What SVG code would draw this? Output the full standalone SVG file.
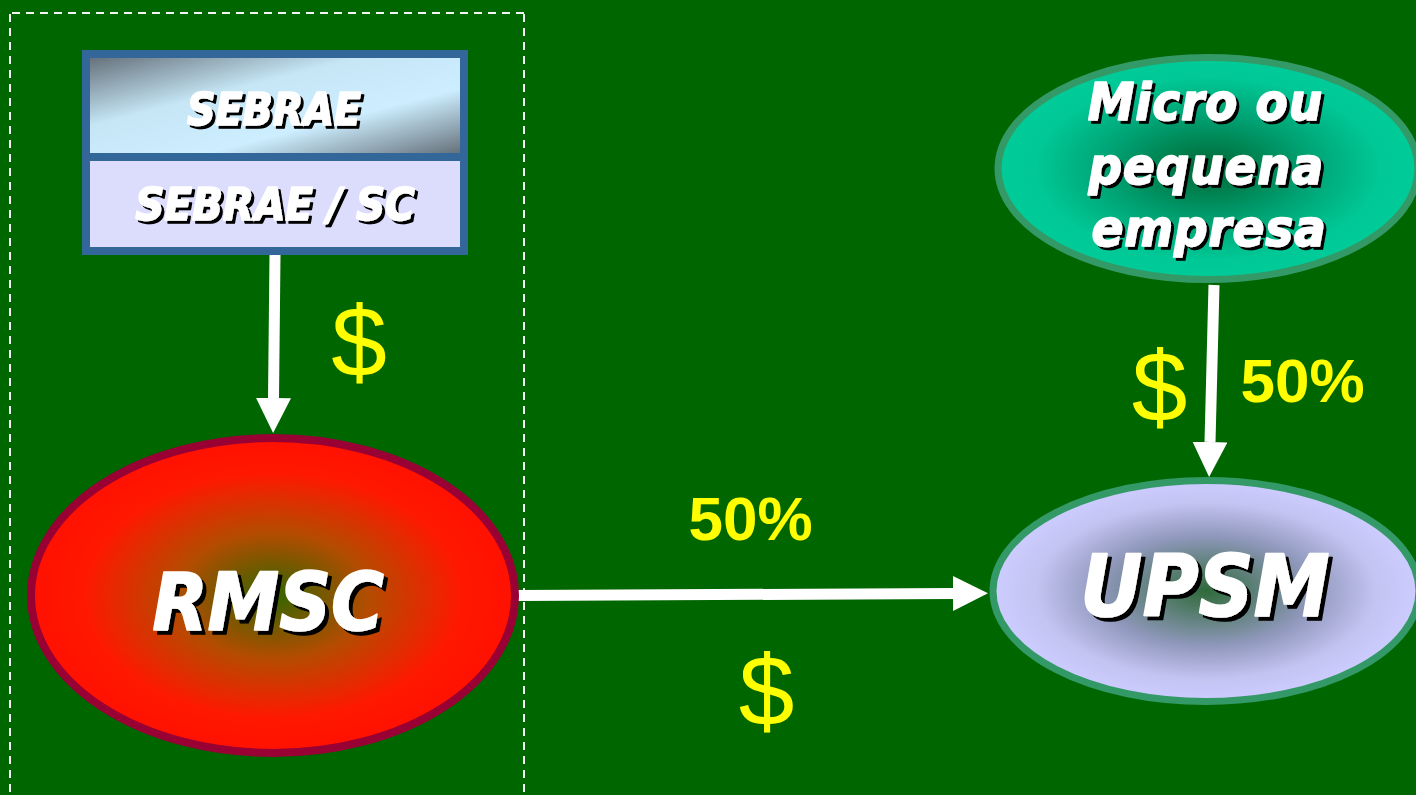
<svg xmlns="http://www.w3.org/2000/svg" width="1416" height="795" viewBox="0 0 1416 795">
  <style>
    .node-label { font-family: "DejaVu Sans Condensed", "DejaVu Sans", "Liberation Sans", sans-serif; font-weight: bold; font-style: italic; fill: #ffffff; stroke: #ffffff; stroke-width: 1.6; stroke-linejoin: round; text-anchor: middle; }
    .money { font-family: "Liberation Sans", Arial, sans-serif; fill: #ffff00; text-anchor: middle; }
    .pct { font-family: "Liberation Sans", Arial, sans-serif; font-weight: bold; fill: #ffff00; text-anchor: middle; font-size: 62px; }
    .dollar { font-size: 100px; }
    .conn { stroke: #ffffff; stroke-width: 11; fill: none; marker-end: url(#head); }
    .dash { stroke: #f4f4f4; stroke-width: 2; stroke-dasharray: 8,6; fill: none; }
  </style>
  <defs>
    <filter id="shadow" x="-10%" y="-20%" width="130%" height="150%">
      <feOffset in="SourceAlpha" dx="3" dy="3" result="off"/>
      <feFlood flood-color="#000000"/>
      <feComposite in2="off" operator="in" result="sh"/>
      <feMerge><feMergeNode in="sh"/><feMergeNode in="SourceGraphic"/></feMerge>
    </filter>
    <filter id="shadowBig" x="-10%" y="-20%" width="130%" height="150%">
      <feOffset in="SourceAlpha" dx="4" dy="4" result="off"/>
      <feFlood flood-color="#000000"/>
      <feComposite in2="off" operator="in" result="sh"/>
      <feMerge><feMergeNode in="sh"/><feMergeNode in="SourceGraphic"/></feMerge>
    </filter>
    <linearGradient id="sebraeGrad" x1="0" y1="0" x2="1" y2="1">
      <stop offset="0" stop-color="#66727c"/>
      <stop offset="0.36" stop-color="#c6e6f6"/>
      <stop offset="0.66" stop-color="#cdeeff"/>
      <stop offset="1" stop-color="#66727c"/>
    </linearGradient>
    <radialGradient id="rmscGrad" cx="0.5" cy="0.5" r="0.5">
      <stop offset="0" stop-color="#336600"/>
      <stop offset="0.4" stop-color="#b44c00"/>
      <stop offset="0.78" stop-color="#ff1800"/>
      <stop offset="1" stop-color="#ff1100"/>
    </radialGradient>
    <radialGradient id="microGrad" cx="0.5" cy="0.5" r="0.5">
      <stop offset="0" stop-color="#006633"/>
      <stop offset="0.5" stop-color="#00a475"/>
      <stop offset="0.82" stop-color="#00c896"/>
      <stop offset="1" stop-color="#00cc99"/>
    </radialGradient>
    <radialGradient id="upsmGrad" cx="0.5" cy="0.5" r="0.5">
      <stop offset="0" stop-color="#2f6a3a"/>
      <stop offset="0.5" stop-color="#9098bc"/>
      <stop offset="0.8" stop-color="#c4c4f2"/>
      <stop offset="1" stop-color="#ccccff"/>
    </radialGradient>
    <marker id="head" markerUnits="userSpaceOnUse" markerWidth="36" markerHeight="36" refX="0" refY="17.5" orient="auto">
      <path d="M0,0 L35,17.5 L0,35 Z" fill="#ffffff"/>
    </marker>
  </defs>

  <rect x="0" y="0" width="1416" height="795" fill="#006600"/>

  <g id="boundary">
    <line class="dash" x1="12" y1="13" x2="524" y2="13"/>
    <line class="dash" x1="10" y1="14" x2="10" y2="800"/>
    <line class="dash" x1="524" y1="14" x2="524" y2="800"/>
  </g>

  <g id="connectors">
    <path class="conn" d="M275,255 L273.5,398"/>
    <path class="conn" d="M518,595.5 L953,593.5"/>
    <path class="conn" d="M1214,285 L1210,442"/>
  </g>

  <g id="sebrae">
    <rect x="86" y="54" width="378" height="197" fill="#dcdcfc" stroke="#336699" stroke-width="8"/>
    <rect x="90" y="58" width="370" height="95" fill="url(#sebraeGrad)"/>
    <line x1="86" y1="157" x2="464" y2="157" stroke="#336699" stroke-width="8"/>
    <text class="node-label" x="274" y="125" font-size="44" filter="url(#shadow)">SEBRAE</text>
    <text class="node-label" x="275" y="220" font-size="45" filter="url(#shadow)">SEBRAE / SC</text>
  </g>

  <g id="rmsc">
    <ellipse cx="273" cy="595.5" rx="242" ry="157.5" fill="url(#rmscGrad)" stroke="#990033" stroke-width="8"/>
    <text class="node-label" x="268" y="630" font-size="80" filter="url(#shadowBig)">RMSC</text>
  </g>

  <g id="micro">
    <ellipse cx="1208" cy="168.5" rx="210" ry="111" fill="url(#microGrad)" stroke="#339966" stroke-width="7"/>
    <text class="node-label" font-size="52" letter-spacing="1" filter="url(#shadow)">
      <tspan x="1214" y="120">Micro ou</tspan>
      <tspan x="1215" y="184">pequena</tspan>
      <tspan x="1209" y="246">empresa</tspan>
    </text>
  </g>

  <g id="upsm">
    <ellipse cx="1206" cy="591" rx="213" ry="110.5" fill="url(#upsmGrad)" stroke="#339966" stroke-width="7"/>
    <text class="node-label" x="1205" y="616" font-size="85" filter="url(#shadowBig)">UPSM</text>
  </g>

  <g id="labels">
    <text class="money dollar" x="359" y="375.5">$</text>
    <text class="money dollar" x="1159.5" y="420.5">$</text>
    <text class="money dollar" x="766.5" y="724.5">$</text>
    <text class="pct" x="1302.5" y="402">50%</text>
    <text class="pct" x="750.5" y="540">50%</text>
  </g>
</svg>
